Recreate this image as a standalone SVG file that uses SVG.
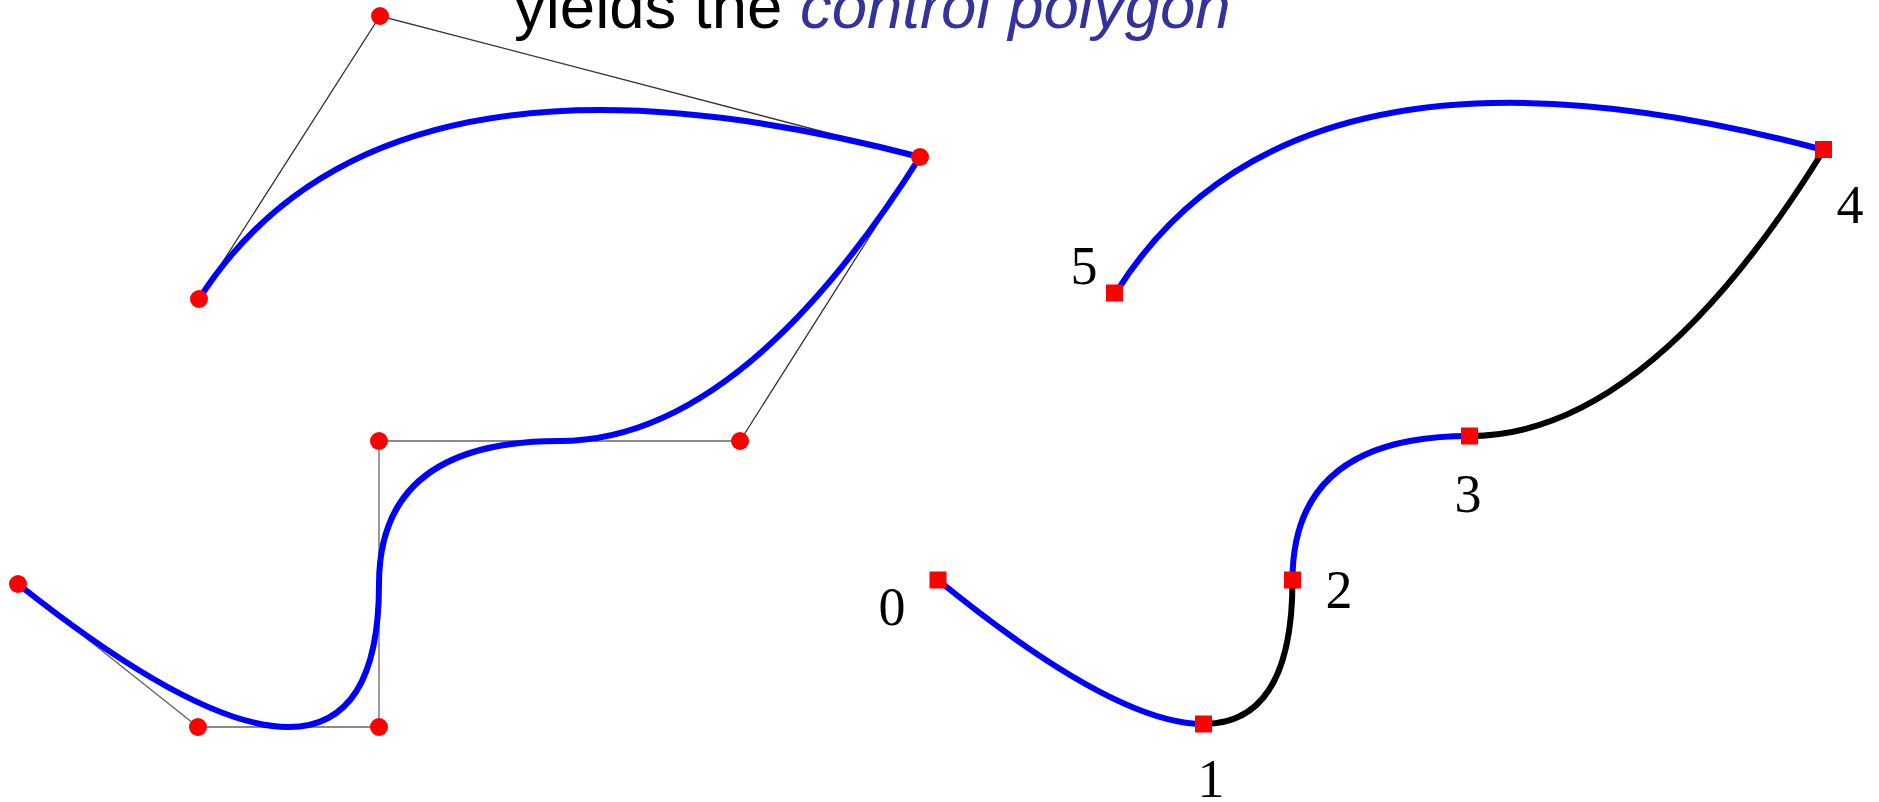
<svg xmlns="http://www.w3.org/2000/svg" width="1879" height="802" viewBox="0 0 1879 802">
<style>
.poly{fill:none;stroke:#666;stroke-width:1.3}
.polyd{fill:none;stroke:#333;stroke-width:1.3}
.blue{fill:none;stroke:#0000ff;stroke-width:6;stroke-linecap:butt}
.black{fill:none;stroke:#000;stroke-width:6;stroke-linecap:butt}
.pt{fill:#ff0000}
.sq{fill:#ff0000}
.lbl{font-family:"Liberation Serif","Times New Roman",serif;font-size:54px;fill:#000;text-anchor:middle}
.title{font-family:"Liberation Sans",Arial,sans-serif;font-size:63.5px;fill:#000}
</style>
<rect width="1879" height="802" fill="#fff"/>
<text class="title" x="514" y="28">yields the <tspan font-style="italic" fill="#333399">control polygon</tspan></text>

<g id="connectors">
  <g id="control-polygon">
    <polyline class="poly" points="18,584 198,727 379,727 379,441 740,441"/>
    <polyline class="polyd" points="740,441 920,157 380,16 199,299"/>
  </g>
  <g id="curve-left">
    <path class="blue" d="M18 584 Q198 727 288.5 727 Q379 727 379 584 Q379 441 559.5 441 Q740 441 920 157 Q380 16 199 299"/>
  </g>
  <g id="curve-right">
    <path class="blue" d="M938 580 Q1114.7 724 1203.6 724"/>
    <path class="black" d="M1203.6 724 Q1292.5 724 1292.5 580"/>
    <path class="blue" d="M1292.5 580 Q1292.5 436 1469.7 436"/>
    <path class="black" d="M1469.7 436 Q1647 436 1823.7 150"/>
    <path class="blue" d="M1823.7 150 Q1293.5 8 1115.7 293"/>
  </g>
</g>

<g id="control-points">
  <g id="p0"><circle class="pt" cx="18" cy="584" r="9"/></g>
  <g id="p1"><circle class="pt" cx="198" cy="727" r="9"/></g>
  <g id="p2"><circle class="pt" cx="379" cy="727" r="9"/></g>
  <g id="p3"><circle class="pt" cx="379" cy="441" r="9"/></g>
  <g id="p4"><circle class="pt" cx="740" cy="441" r="9"/></g>
  <g id="p5"><circle class="pt" cx="920" cy="157" r="9"/></g>
  <g id="p6"><circle class="pt" cx="380" cy="16" r="9" fill="#ff2200"/></g>
  <g id="p7"><circle class="pt" cx="199" cy="299" r="9"/></g>
</g>

<g id="knots">
  <g id="k0"><rect class="sq" x="929.5" y="571.5" width="17" height="17"/><text class="lbl" x="892" y="625">0</text></g>
  <g id="k1"><rect class="sq" x="1195" y="715.5" width="17" height="17"/><text class="lbl" x="1211" y="797">1</text></g>
  <g id="k2"><rect class="sq" x="1284" y="571.5" width="17" height="17"/><text class="lbl" x="1339" y="608">2</text></g>
  <g id="k3"><rect class="sq" x="1461" y="427.5" width="17" height="17"/><text class="lbl" x="1468" y="512">3</text></g>
  <g id="k4"><rect class="sq" x="1815" y="141" width="17" height="17"/><text class="lbl" x="1850" y="223">4</text></g>
  <g id="k5"><rect class="sq" x="1106" y="284.5" width="17" height="17"/><text class="lbl" x="1084" y="284">5</text></g>
</g>
</svg>
